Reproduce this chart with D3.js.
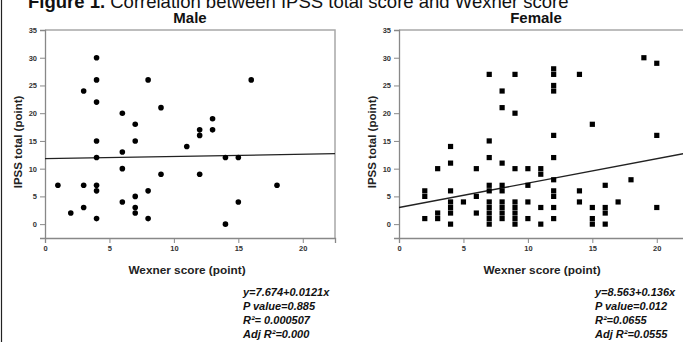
<!DOCTYPE html>
<html>
<head>
<meta charset="utf-8">
<script src="https://cdn.jsdelivr.net/npm/d3@7"></script>
<style>
  body { margin: 0; background: #fff; }
  svg { display: block; font-family: "Liberation Sans", Arial, sans-serif; }
  .tick text { font-size: 7.5px; font-weight: bold; fill: #333; }
</style>
</head>
<body>
<svg id="chart" width="683" height="342"></svg>
<script>
// Male: Wexner score (x) vs IPSS total (y)
const maleWexner = [1, 2, 3, 3, 3, 4, 4, 4, 4, 4, 4, 4, 4, 6, 6, 6, 6, 7, 7, 7, 7, 7, 8, 8, 8, 9, 9, 11, 12, 12, 12, 13, 13, 14, 14, 15, 15, 16, 18];
const maleIpss   = [7, 2, 24, 7, 3, 30, 26, 22, 15, 12, 7, 6, 1, 20, 13, 10, 4, 18, 15, 5, 3, 2, 26, 6, 1, 21, 9, 14, 17, 16, 9, 19, 17, 12, 0, 12, 4, 26, 7];

// Female
const femaleWexner = [2, 2, 2, 3, 3, 3, 4, 4, 4, 4, 4, 4, 4, 5, 6, 6, 6,
  7, 7, 7, 7, 7, 7, 7, 7, 7, 7, 8, 8, 8, 8, 8, 8, 8, 8, 8,
  9, 9, 9, 9, 9, 9, 9, 9, 10, 10, 10, 10, 11, 11, 11, 11,
  12, 12, 12, 12, 12, 12, 12, 12, 12, 12, 12, 14, 14, 14, 15, 15, 15, 15,
  16, 16, 16, 16, 17, 18, 19, 20, 20, 20];
const femaleIpss = [6, 5, 1, 10, 2, 1, 14, 11, 6, 4, 3, 2, 0, 4, 10, 5, 2,
  27, 15, 12, 7, 6, 4, 3, 2, 1, 0, 24, 21, 11, 7, 6, 4, 3, 2, 1,
  27, 20, 10, 4, 3, 2, 1, 0, 10, 7, 4, 1, 10, 9, 3, 0,
  28, 27, 25, 24, 16, 12, 8, 6, 5, 3, 1, 27, 6, 4, 18, 3, 1, 0,
  7, 3, 2, 0, 4, 8, 30, 29, 16, 3];

// fitted lines as drawn: [intercept, slope]
const maleFit = [11.8, 0.04];
const femaleFit = [3.0, 0.44];

const xTicks = [0, 5, 10, 15, 20];
const yTicks = [0, 5, 10, 15, 20, 25, 30, 35];

const maleStats = ["y=7.674+0.0121x", "P value=0.885", "R\u00b2= 0.000507", "Adj R\u00b2=0.000"];
const femaleStats = ["y=8.563+0.136x", "P value=0.012", "R\u00b2=0.0655", "Adj R\u00b2=0.0555"];

const svg = d3.select("#chart");

// figure border and caption
svg.append("line").attr("x1", 1.5).attr("x2", 1.5).attr("y1", 0).attr("y2", 342)
  .attr("stroke", "#222").attr("stroke-width", 1.2);

const cap = svg.append("text").attr("x", 28).attr("y", 7.5).attr("font-size", 18.5).attr("fill", "#111");
cap.append("tspan").attr("font-weight", "bold").text("Figure 1.");
cap.append("tspan").text(" Correlation between IPSS total score and Wexner score");

function panel(opts) {
  const x = d3.scaleLinear().domain([0, 22.5]).range([opts.left, opts.left + 290]);
  const y = d3.scaleLinear().domain([-2.5, 35]).range([238, 30]);
  const g = svg.append("g");

  // frame top/right
  g.append("path")
    .attr("d", `M${x(0)},${y(35)}H${x(22.5)}V${y(-2.5)}`)
    .attr("fill", "none").attr("stroke", "#a8a8a8").attr("stroke-width", 1.5);

  const xa = g.append("g").attr("transform", `translate(0,${y(-2.5)})`)
    .call(d3.axisBottom(x).tickValues(xTicks).tickSize(5).tickPadding(3));
  const ya = g.append("g").attr("transform", `translate(${x(0)},0)`)
    .call(d3.axisLeft(y).tickValues(yTicks).tickSize(5).tickPadding(3));
  [xa, ya].forEach(a => {
    a.select(".domain").attr("stroke", "#888").attr("stroke-width", 1.3);
    a.selectAll(".tick line").attr("stroke", "#888");
  });

  // regression line
  g.append("line")
    .attr("x1", x(0)).attr("y1", y(opts.fit[0]))
    .attr("x2", x(22.5)).attr("y2", y(opts.fit[0] + opts.fit[1] * 22.5))
    .attr("stroke", "#222").attr("stroke-width", 1.3);

  const pts = opts.xs.map((v, i) => ({x: v, y: opts.ys[i]}));
  if (opts.square) {
    g.selectAll("rect.pt").data(pts).enter().append("rect")
      .attr("class", "pt")
      .attr("x", d => x(d.x) - 2.6).attr("y", d => y(d.y) - 2.6)
      .attr("width", 5.2).attr("height", 5.2).attr("fill", "#000");
  } else {
    g.selectAll("circle.pt").data(pts).enter().append("circle")
      .attr("class", "pt")
      .attr("cx", d => x(d.x)).attr("cy", d => y(d.y))
      .attr("r", 2.8).attr("fill", "#000");
  }

  // titles
  g.append("text").attr("x", opts.titleX).attr("y", 23)
    .attr("text-anchor", "middle").attr("font-size", 15).attr("font-weight", "bold")
    .attr("fill", "#111").text(opts.title);
  g.append("text").attr("x", opts.labelX).attr("y", 274)
    .attr("text-anchor", "middle").attr("font-size", 11.8).attr("font-weight", "bold")
    .attr("fill", "#222").text("Wexner score (point)");
  g.append("text")
    .attr("transform", `translate(${opts.left - 23},142) rotate(-90)`)
    .attr("text-anchor", "middle").attr("font-size", 11.5).attr("font-weight", "bold")
    .attr("fill", "#222").text("IPSS total (point)");

  g.selectAll("text.stat").data(opts.stats).enter().append("text")
    .attr("class", "stat")
    .attr("x", opts.statX).attr("y", (d, i) => 296 + i * 14)
    .attr("font-size", 11).attr("font-weight", "bold").attr("font-style", "italic")
    .attr("fill", "#111").text(d => d);
}

panel({left: 45, xs: maleWexner, ys: maleIpss, fit: maleFit, square: false,
  title: "Male", titleX: 190, labelX: 187, stats: maleStats, statX: 243});
panel({left: 399, xs: femaleWexner, ys: femaleIpss, fit: femaleFit, square: true,
  title: "Female", titleX: 536, labelX: 542, stats: femaleStats, statX: 595});
</script>
</body>
</html>
